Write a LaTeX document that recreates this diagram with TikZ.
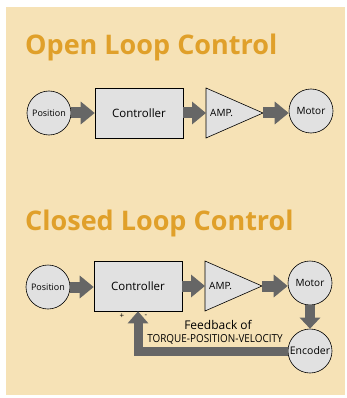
\documentclass[tikz,border=0pt]{standalone}
\usepackage{fontspec}
\setmainfont{Open Sans}
\usetikzlibrary{arrows.meta}
\definecolor{bgbeige}{HTML}{F6E2B6}
\definecolor{titleor}{HTML}{E0A02A}
\definecolor{boxgray}{HTML}{E1E1E1}
\definecolor{arrgray}{HTML}{666666}
\begin{document}
\begin{tikzpicture}[x=1pt,y=-1pt,
  circ/.style={circle,draw=black,line width=0.6pt,fill=boxgray,minimum size=44pt,inner sep=0pt,font=\fontsize{9}{10}\selectfont},
  ctrlbox/.style={rectangle,draw=black,line width=0.6pt,fill=boxgray,minimum width=88pt,minimum height=50pt,inner sep=0pt,font=\fontsize{11.5}{12}\selectfont},
  amptri/.style={draw=black,line width=0.6pt,fill=boxgray},
  title/.style={font=\fontsize{27}{29}\selectfont\bfseries,text=titleor,anchor=base west,inner sep=0pt},
  barrow/.style={draw=arrgray,line width=11pt,-{Triangle[width=22pt,length=14pt]}},
  varrow/.style={draw=arrgray,line width=10pt,-{Triangle[width=20pt,length=11pt]}},
  farrow/.style={draw=arrgray,line width=9pt,line join=miter,-{Triangle[width=20pt,length=12pt]}},
  lbl/.style={inner sep=0pt},
  bigl/.style={font=\fontsize{10}{11}\selectfont}
]
\useasboundingbox (0,0) rectangle (347,398);
\fill[white] (0,0) rectangle (347,398);
\fill[bgbeige] (6,7) rectangle (345,395);

% Open loop
\node[title] (t1) at (25,55) {Open Loop Control};
\node[circ] (pos1) at (49,113) {Position};
\node[ctrlbox] (ctl1) at (139,113) {Controller};
\draw[amptri] (206,88) -- (263,113) -- (206,138) -- cycle;
\coordinate (amp1in) at (206,113);
\coordinate (amp1out) at (263,113);
\node[lbl,bigl,anchor=west] (amp1t) at (210,113) {AMP.};
\node[circ,bigl] (mot1) at (311,111) {Motor};
\draw[barrow] (pos1) -- (ctl1);
\draw[barrow] (ctl1.east) -- (amp1in);
\draw[barrow] (amp1out) -- (mot1.west |- amp1out);

% Closed loop
\node[title] (t2) at (25,230) {Closed Loop Control};
\node[circ] (pos2) at (48,287) {Position};
\node[ctrlbox] (ctl2) at (138,286) {Controller};
\draw[amptri] (205,261) -- (262,286) -- (205,311) -- cycle;
\coordinate (amp2in) at (205,286);
\coordinate (amp2out) at (262,286);
\node[lbl,bigl,anchor=west] (amp2t) at (209,286) {AMP.};
\node[circ,bigl] (mot2) at (310,283) {Motor};
\node[circ,font=\fontsize{10.5}{11}\selectfont] (enc) at (310,351) {Encoder};
\draw[barrow] (pos2) -- (ctl2.west |- pos2);
\draw[barrow] (ctl2.east) -- (amp2in);
\draw[barrow] (amp2out) -- (mot2.west |- amp2out);
\draw[varrow] (mot2) -- (enc);
\draw[farrow] (enc.west) -| (ctl2.south);
\node[lbl,font=\fontsize{8}{9}\selectfont] (plus) at (122,316) {+};
\node[lbl,font=\fontsize{8}{9}\selectfont] (minus) at (146,316) {-};
\node[lbl,font=\fontsize{12}{13}\selectfont] (fb1) at (218,325) {Feedback of};
\node[lbl,font=\fontsize{11}{12}\selectfont,xscale=0.9] (fb2) at (215,339) {TORQUE-POSITION-VELOCITY};
\end{tikzpicture}
\end{document}
